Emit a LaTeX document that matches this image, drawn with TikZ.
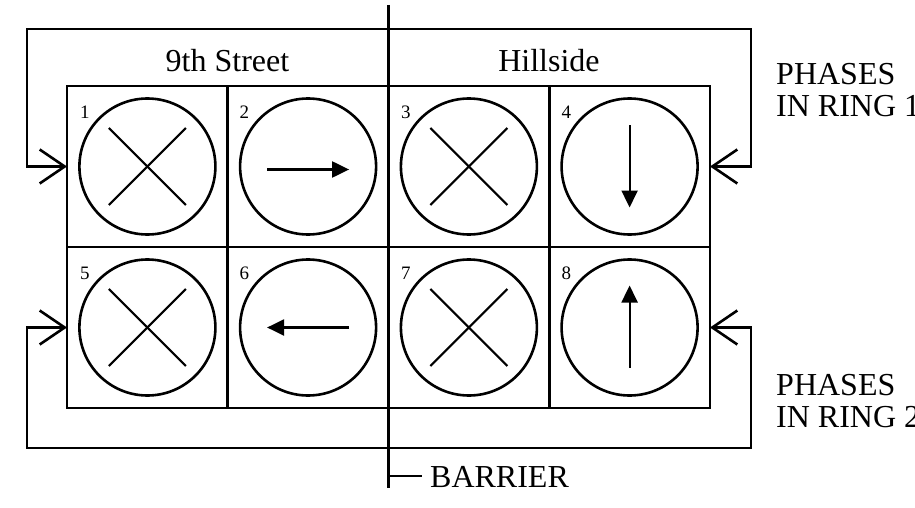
\documentclass[tikz,border=0pt]{standalone}
\usepackage{fontspec}
\setmainfont{Liberation Serif}
\usetikzlibrary{arrows.meta}
\begin{document}
\begin{tikzpicture}[x=1pt,y=-1pt,
  ln/.style={line width=2.6pt},
  bigtxt/.style={font=\fontsize{32}{32}\selectfont, inner sep=0pt},
  numtxt/.style={font=\fontsize{19}{19}\selectfont, inner sep=0pt, anchor=base west},
  sig/.style={circle, draw, line width=2.6pt, minimum size=136pt, inner sep=0pt},
  xmark/.style={line width=2.2pt},
  dirarrow/.style={line width=2.2pt, -{Triangle[length=17pt,width=16pt]}},
  ringarrow/.style={line width=2.6pt, {Straight Barb[length=25pt,width=34pt]}-{Straight Barb[length=25pt,width=34pt]}}
]
\useasboundingbox (0,0) rectangle (915,508);
% grid
\draw[ln] (67,86) rectangle (710,408);
\draw[ln] (67,247) -- (710,247);
\draw[ln] (227.75,86) -- (227.75,408);
\draw[ln] (549.25,86) -- (549.25,408);
% barrier
\coordinate (bt) at (388.5,5);
\coordinate (bb) at (388.5,488);
\coordinate (bk) at (388.5,476);
\coordinate (bke) at (422,476);
\draw[ln] (bt) -- (bb);
\draw[ln] (bk) -- (bke);
\node[bigtxt, anchor=base west] (barrier) at (430,487) {BARRIER};
% headings
\node[bigtxt, anchor=base] (street) at (227.5,72) {9th Street};
\node[bigtxt, anchor=base] (hill) at (549,72) {Hillside};
% ring labels
\node[bigtxt, anchor=base west] (ph1) at (776,85) {PHASES};
\node[bigtxt, anchor=base west] (ring1) at (776,117) {IN RING 1};
\node[bigtxt, anchor=base west] (ph2) at (776,395) {PHASES};
\node[bigtxt, anchor=base west] (ring2) at (776,427) {IN RING 2};
% circles
\node[sig] (c1) at (147.4,166.5) {};
\node[sig] (c2) at (308.1,166.5) {};
\node[sig] (c3) at (468.9,166.5) {};
\node[sig] (c4) at (629.6,166.5) {};
\node[sig] (c5) at (147.4,327.5) {};
\node[sig] (c6) at (308.1,327.5) {};
\node[sig] (c7) at (468.9,327.5) {};
\node[sig] (c8) at (629.6,327.5) {};
% numbers
\node[numtxt] (n1) at (80,118) {1};
\node[numtxt] (n2) at (239.5,118) {2};
\node[numtxt] (n3) at (401,118) {3};
\node[numtxt] (n4) at (561.5,118) {4};
\node[numtxt] (n5) at (80,279) {5};
\node[numtxt] (n6) at (239.5,279) {6};
\node[numtxt] (n7) at (401,279) {7};
\node[numtxt] (n8) at (561.5,279) {8};
% X marks
\foreach \c in {c1,c3,c5,c7}{
  \draw[xmark] ([shift={(-38.5,-38.5)}]\c.center) -- ([shift={(38.5,38.5)}]\c.center);
  \draw[xmark] ([shift={(-38.5,38.5)}]\c.center) -- ([shift={(38.5,-38.5)}]\c.center);
}
% direction arrows
\draw[dirarrow] ([shift={(-41,3)}]c2.center) -- ([shift={(41,3)}]c2.center);
\draw[dirarrow] ([shift={(41,0)}]c6.center) -- ([shift={(-41,0)}]c6.center);
\draw[dirarrow] ([shift={(0,-41)}]c4.center) -- ([shift={(0,41)}]c4.center);
\draw[dirarrow] ([shift={(0,40)}]c8.center) -- ([shift={(0,-42)}]c8.center);
% ring loops
\coordinate (l1) at (67,166.5);
\coordinate (r1) at (710,166.5);
\coordinate (l2) at (67,327.5);
\coordinate (r2) at (710,327.5);
\draw[ringarrow] (l1) -- (27,166.5) -- (27,29) -- (751,29) -- (751,166.5) -- (r1);
\draw[ringarrow] (l2) -- (27,327.5) -- (27,448) -- (751,448) -- (751,327.5) -- (r2);
\end{tikzpicture}
\end{document}
